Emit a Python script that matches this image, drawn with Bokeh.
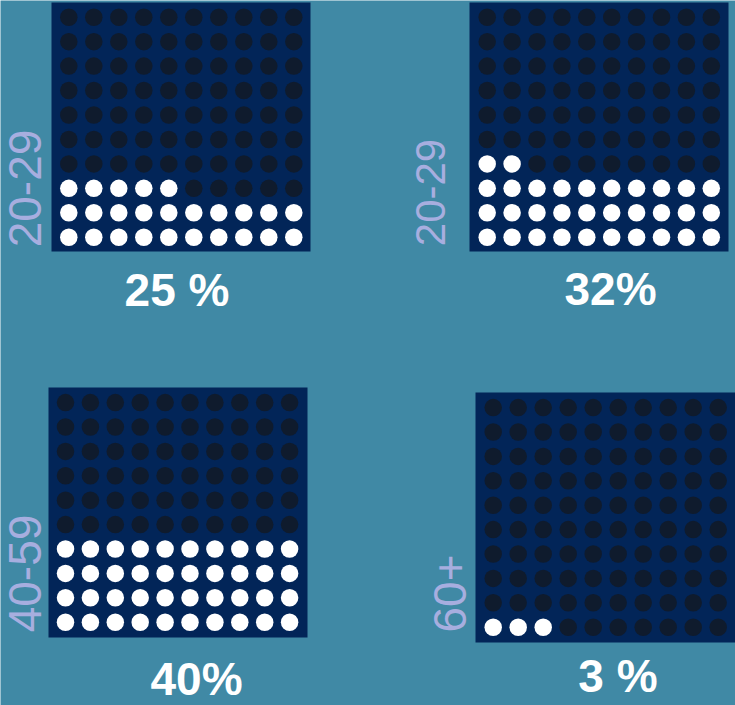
import math
from bokeh.plotting import figure
from bokeh.models import Range1d, ColumnDataSource
from bokeh.core.properties import value
from bokeh.embed import file_html
from bokeh.resources import INLINE

# ---- data ----
age_groups = ["20-29", "20-29", "40-59", "60+"]
percents = [25, 32, 40, 3]
value_labels = ["25 %", "32%", "40%", "3 %"]

# ---- styling / layout constants ----
BG = "#4089A5"
FRAME = "#022558"
DOT_OFF = "#0F1B2D"
DOT_ON = "#FFFFFF"
LABEL_COL = "#A7AEDF"
FONT = "Liberation Sans"

# per panel: frame (left,right,top,bottom), first dot (x,y) bottom-left, dx, dy
panels = [
    dict(frame=(51, 310, 2, 251), x0=68.3, y0=236.7, dx=25.0, dy=24.44,
         lab=(24, 188, 46), val=(176.5, 289)),
    dict(frame=(469, 728, 2, 251), x0=486.7, y0=236.7, dx=24.9, dy=24.44,
         lab=(430, 192, 42), val=(610, 288)),
    dict(frame=(48, 307, 387, 637), x0=65.0, y0=621.7, dx=24.9, dy=24.4,
         lab=(24, 573, 46), val=(196, 678)),
    dict(frame=(475, 735, 392, 642), x0=492.7, y0=626.7, dx=25.0, dy=24.4,
         lab=(449, 593, 46), val=(617.5, 675)),
]

W, H = 735, 705
p = figure(width=W, height=H, output_backend="svg", toolbar_location=None,
           x_range=Range1d(0, W), y_range=Range1d(H, 0),
           min_border=0, outline_line_color=None,
           background_fill_color=BG, border_fill_color=BG)
p.axis.visible = False
p.grid.visible = False

for k, pan in enumerate(panels):
    l, r, t, b = pan["frame"]
    p.quad(left=[l], right=[r], top=[t], bottom=[b], fill_color=FRAME, line_color=None)
    xs, ys, cols = [], [], []
    for n in range(100):
        row, col = divmod(n, 10)
        xs.append(pan["x0"] + col * pan["dx"])
        ys.append(pan["y0"] - row * pan["dy"])
        cols.append(DOT_ON if n < percents[k] else DOT_OFF)
    src = ColumnDataSource(dict(x=xs, y=ys, c=cols))
    p.scatter("x", "y", source=src, size=17.5, fill_color="c", line_color=None)

    lx, ly, fs = pan["lab"]
    p.text(x=[lx], y=[ly], text=[age_groups[k]], angle=math.pi / 2,
           text_align="center", text_baseline="alphabetic",
           text_font=value(FONT), text_font_size=f"{fs}px", text_color=LABEL_COL)

    vx, vy = pan["val"]
    p.text(x=[vx], y=[vy], text=[value_labels[k]],
           text_align="center", text_baseline="alphabetic",
           text_font=value(FONT), text_font_size="46px", text_font_style="bold",
           text_color="white")

open("out.html", "w").write(file_html(p, INLINE))
